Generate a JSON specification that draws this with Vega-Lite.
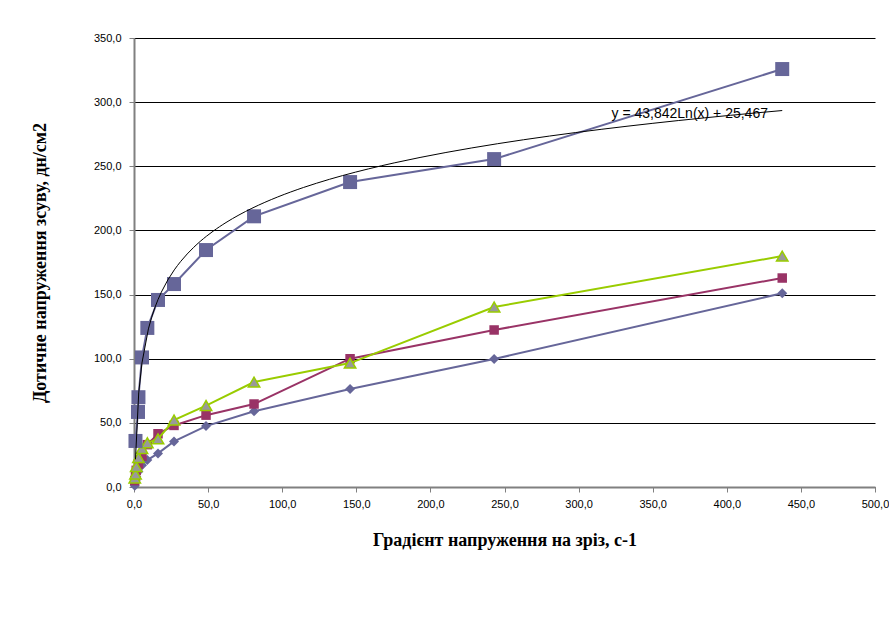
{
  "$schema": "https://vega.github.io/schema/vega-lite/v6.json",
  "width": 741,
  "height": 449,
  "autosize": {"type": "none"},
  "padding": {"left": 134, "top": 38, "right": 14, "bottom": 150},
  "background": "white",
  "config": {
    "locale": {"number": {"decimal": ",", "thousands": " ", "grouping": [3], "currency": ["", ""]}},
    "view": {"stroke": null},
    "axis": {"labelFont": "Liberation Sans", "labelFontSize": 11, "labelColor": "#000000", "titleFont": "Liberation Serif", "titleFontSize": 18, "titleFontWeight": "bold", "titleColor": "#000000"}
  },
  "datasets": {
    "pts": [
      {"s": "A", "x": 1.0, "y": 35.9},
      {"s": "A", "x": 2.7, "y": 58.5},
      {"s": "A", "x": 3.0, "y": 70.0},
      {"s": "A", "x": 5.4, "y": 101.0},
      {"s": "A", "x": 9.0, "y": 124.0},
      {"s": "A", "x": 16.2, "y": 145.8},
      {"s": "A", "x": 27.0, "y": 158.2},
      {"s": "A", "x": 48.6, "y": 184.7},
      {"s": "A", "x": 81.0, "y": 211.0},
      {"s": "A", "x": 145.8, "y": 237.7},
      {"s": "A", "x": 243.0, "y": 255.6},
      {"s": "A", "x": 437.4, "y": 325.8},
      {"s": "D", "x": 0.5, "y": 1.0},
      {"s": "D", "x": 1.0, "y": 5.0},
      {"s": "D", "x": 1.5, "y": 8.0},
      {"s": "D", "x": 3.0, "y": 12.0},
      {"s": "D", "x": 5.4, "y": 17.0},
      {"s": "D", "x": 9.0, "y": 21.0},
      {"s": "D", "x": 16.2, "y": 26.2},
      {"s": "D", "x": 27.0, "y": 35.5},
      {"s": "D", "x": 48.6, "y": 47.5},
      {"s": "D", "x": 81.0, "y": 59.0},
      {"s": "D", "x": 145.8, "y": 76.4},
      {"s": "D", "x": 243.0, "y": 99.8},
      {"s": "D", "x": 437.4, "y": 151.0},
      {"s": "M", "x": 0.5, "y": 5.0},
      {"s": "M", "x": 1.0, "y": 8.5},
      {"s": "M", "x": 1.5, "y": 13.0},
      {"s": "M", "x": 3.0, "y": 18.0},
      {"s": "M", "x": 5.4, "y": 24.0},
      {"s": "M", "x": 9.0, "y": 33.0},
      {"s": "M", "x": 16.2, "y": 41.5},
      {"s": "M", "x": 27.0, "y": 48.0},
      {"s": "M", "x": 48.6, "y": 56.0},
      {"s": "M", "x": 81.0, "y": 64.7},
      {"s": "M", "x": 145.8, "y": 100.0},
      {"s": "M", "x": 243.0, "y": 122.4},
      {"s": "M", "x": 437.4, "y": 162.9},
      {"s": "T", "x": 0.5, "y": 7.0},
      {"s": "T", "x": 1.0, "y": 10.0},
      {"s": "T", "x": 1.5, "y": 16.0},
      {"s": "T", "x": 3.0, "y": 23.0},
      {"s": "T", "x": 5.4, "y": 30.0},
      {"s": "T", "x": 9.0, "y": 34.5},
      {"s": "T", "x": 16.2, "y": 37.5},
      {"s": "T", "x": 27.0, "y": 52.2},
      {"s": "T", "x": 48.6, "y": 63.5},
      {"s": "T", "x": 81.0, "y": 81.8},
      {"s": "T", "x": 145.8, "y": 96.6},
      {"s": "T", "x": 243.0, "y": 140.3},
      {"s": "T", "x": 437.4, "y": 180.0}
    ],
    "label": [{"x": 375, "y": 291, "t": "y = 43,842Ln(x) + 25,467"}]
  },
  "data": {"name": "pts"},
  "encoding": {
    "x": {"field": "x", "type": "quantitative", "scale": {"domain": [0, 500], "nice": false, "zero": true},
      "axis": {"values": [0, 50, 100, 150, 200, 250, 300, 350, 400, 450, 500], "format": ".1f", "grid": false, "domainColor": "#808080", "domainWidth": 2, "tickColor": "#808080", "tickSize": 5, "labelPadding": 6, "title": "Градієнт напруження на зріз, с-1", "titlePadding": 22, "labelFlush": false}},
    "y": {"field": "y", "type": "quantitative", "scale": {"domain": [0, 350], "nice": false},
      "axis": {"values": [0, 50, 100, 150, 200, 250, 300, 350], "format": ".1f", "grid": true, "gridColor": "#000000", "gridWidth": 1, "domainColor": "#808080", "domainWidth": 2, "tickColor": "#808080", "tickSize": 5, "labelPadding": 8, "title": "Дотичне напруження зсуву, дн/см2", "titlePadding": 44}}
  },
  "layer": [
    {"transform": [{"filter": "datum.s === 'D'"}], "mark": {"type": "line", "color": "#666699", "strokeWidth": 2}},
    {"transform": [{"filter": "datum.s === 'D'"}], "mark": {"type": "point", "shape": "diamond", "filled": true, "color": "#666699", "size": 100, "opacity": 1}},
    {"transform": [{"filter": "datum.s === 'M'"}], "mark": {"type": "line", "color": "#993366", "strokeWidth": 2}},
    {"transform": [{"filter": "datum.s === 'M'"}], "mark": {"type": "point", "shape": "square", "filled": true, "color": "#993366", "size": 90, "opacity": 1}},
    {"transform": [{"filter": "datum.s === 'T'"}], "mark": {"type": "line", "color": "#99CC00", "strokeWidth": 2}},
    {"transform": [{"filter": "datum.s === 'T'"}], "mark": {"type": "point", "shape": "triangle-up", "filled": true, "fill": "#999999", "stroke": "#99CC00", "strokeWidth": 1.5, "size": 130, "opacity": 1}},
    {"transform": [{"filter": "datum.s === 'A'"}], "mark": {"type": "line", "color": "#666699", "strokeWidth": 2}},
    {"transform": [{"filter": "datum.s === 'A'"}], "mark": {"type": "point", "shape": "square", "filled": true, "color": "#666699", "size": 196, "opacity": 1}},
    {"transform": [{"filter": "datum.s === 'A'"}, {"regression": "y", "on": "x", "method": "log"}], "mark": {"type": "line", "color": "#000000", "strokeWidth": 1}},
    {"data": {"name": "label"}, "mark": {"type": "text", "font": "Liberation Sans", "fontSize": 14, "align": "center", "baseline": "middle", "color": "#000000"}, "encoding": {"text": {"field": "t"}}}
  ]
}
